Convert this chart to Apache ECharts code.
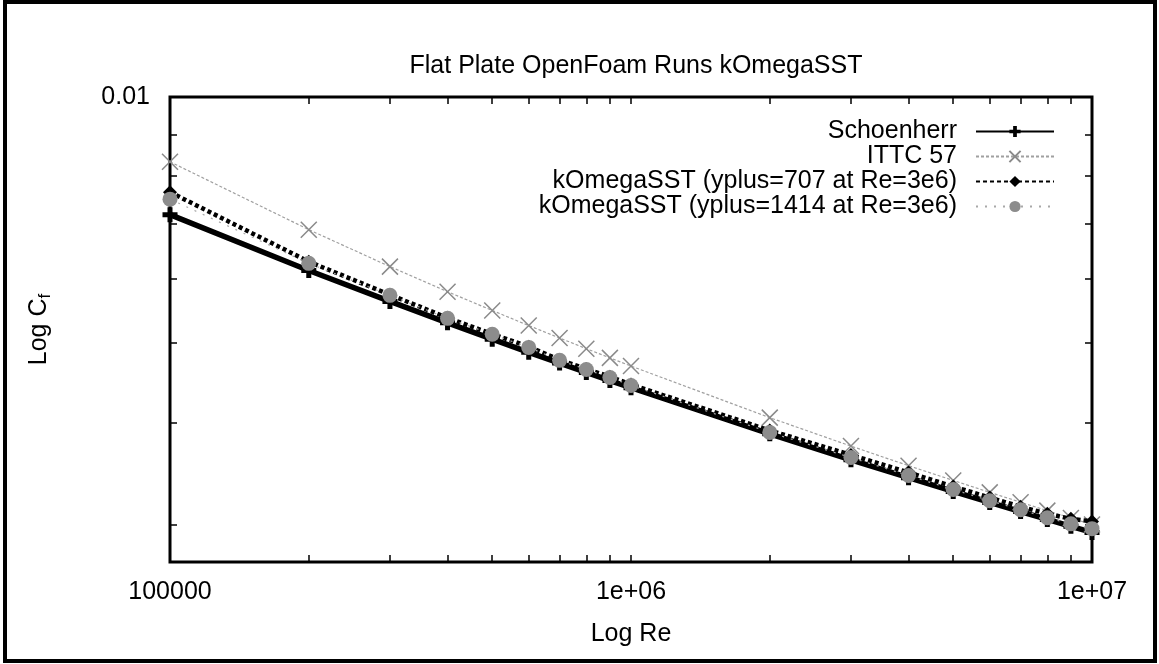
<!DOCTYPE html>
<html>
<head>
<meta charset="utf-8">
<script src="https://cdn.jsdelivr.net/npm/echarts@6/dist/echarts.min.js"></script>
<style>
  html, body { margin: 0; padding: 0; background: #fff; }
  #chart { width: 1159px; height: 664px; }
</style>
</head>
<body>
<div id="chart"></div>
<script>
// Reynolds numbers of the flat plate runs
const reynolds = [1e5, 2e5, 3e5, 4e5, 5e5, 6e5, 7e5, 8e5, 9e5,
                  1e6, 2e6, 3e6, 4e6, 5e6, 6e6, 7e6, 8e6, 9e6, 1e7];

// Skin friction coefficient Cf for each curve
const schoenherr = [0.00718, 0.006135, 0.005624, 0.005295, 0.005057, 0.004873, 0.004727, 0.004605, 0.00450,
                    0.004410, 0.003873, 0.003600, 0.003423, 0.003294, 0.003193, 0.003112, 0.003044, 0.002985, 0.002934];
const ittc57 = [0.008333, 0.006883, 0.006203, 0.005780, 0.005482, 0.005254, 0.005073, 0.004923, 0.004797,
                0.004688, 0.004054, 0.003742, 0.003541, 0.003397, 0.003285, 0.003195, 0.003120, 0.003056, 0.003000];
const komega707 = [0.00765, 0.00629, 0.00573, 0.00537, 0.00513, 0.00495, 0.00477, 0.00465, 0.00455,
                   0.00445, 0.00391, 0.00365, 0.003474, 0.003339, 0.003237, 0.003155, 0.003093, 0.003049, 0.003027];
const komega1414 = [0.00750, 0.00626, 0.005721, 0.005362, 0.005127, 0.004941, 0.004764, 0.004643, 0.004540,
                    0.004439, 0.003889, 0.003623, 0.003444, 0.003311, 0.003209, 0.003128, 0.003058, 0.003006, 0.002966];

// Axis ticks and labels
const xTickValues = [1e5, 2e5, 3e5, 4e5, 5e5, 6e5, 7e5, 8e5, 9e5,
                     1e6, 2e6, 3e6, 4e6, 5e6, 6e6, 7e6, 8e6, 9e6, 1e7];
const xLabelValues = [1e5, 1e6, 1e7];
const xLabelText = ['100000', '1e+06', '1e+07'];
const yTickValues = [0.003, 0.004, 0.005, 0.006, 0.007, 0.008, 0.009, 0.01];
const yLabelValues = [0.01];
const yLabelText = ['0.01'];

const FONT = '"Liberation Sans", Arial, Helvetica, sans-serif';
const FS = 25;

function labelFor(values, texts) {
  return function (v) {
    const i = values.findIndex(t => Math.abs(Math.log10(t) - Math.log10(v)) < 1e-6);
    return i >= 0 ? texts[i] : '';
  };
}

function pairs(ys) {
  return reynolds.map((x, i) => [x, ys[i]]);
}

const plusPath = 'path://M4,0H8V4H12V8H8V12H4V8H0V4H4Z';
const crossPath = 'path://M0,0L10,10M10,0L0,10';

const tickStyle = { show: true, inside: true, length: 7, lineStyle: { color: '#000', width: 1.5 } };

const chart = echarts.init(document.getElementById('chart'), null, { renderer: 'canvas' });

chart.setOption({
  animation: false,
  backgroundColor: '#fff',
  textStyle: { fontFamily: FONT },
  title: {
    text: 'Flat Plate OpenFoam Runs kOmegaSST',
    left: 631,
    textAlign: 'center',
    top: 49,
    textStyle: { fontFamily: FONT, fontSize: FS, fontWeight: 'normal', color: '#000' }
  },
  graphic: [{
    type: 'rect',
    shape: { x: 5, y: 2, width: 1150, height: 659 },
    style: { fill: 'none', stroke: '#000', lineWidth: 4 },
    silent: true
  }],
  grid: {
    left: 170, right: 67, top: 97, bottom: 102,
    show: true, borderColor: '#000', borderWidth: 3, backgroundColor: 'transparent'
  },
  legend: {
    orient: 'vertical',
    right: 99,
    top: 114,
    align: 'right',
    itemWidth: 78,
    itemHeight: 14,
    itemGap: 0,
    selectedMode: false,
    textStyle: { fontFamily: FONT, fontSize: FS, color: '#000', padding: [0, 14, 0, 0] },
    data: ['Schoenherr', 'ITTC 57', 'kOmegaSST (yplus=707 at Re=3e6)', 'kOmegaSST (yplus=1414 at Re=3e6)']
  },
  xAxis: [{
    type: 'log',
    position: 'bottom',
    min: 1e5, max: 1e7,
    axisLine: { show: false },
    axisTick: Object.assign({ customValues: xTickValues }, tickStyle),
    axisLabel: {
      customValues: xLabelValues,
      formatter: labelFor(xLabelValues, xLabelText),
      fontFamily: FONT, fontSize: FS, color: '#000', margin: 18
    },
    splitLine: { show: false },
    minorTick: { show: false },
    name: 'Log Re',
    nameLocation: 'middle',
    nameGap: 60,
    nameTextStyle: { fontFamily: FONT, fontSize: FS, color: '#000' }
  }, {
    type: 'log',
    position: 'top',
    min: 1e5, max: 1e7,
    axisLine: { show: false },
    axisTick: Object.assign({ customValues: xTickValues }, tickStyle),
    axisLabel: { show: false },
    splitLine: { show: false }
  }],
  yAxis: [{
    type: 'log',
    position: 'left',
    min: 0.0027, max: 0.01,
    axisLine: { show: false },
    axisTick: Object.assign({ customValues: yTickValues }, tickStyle),
    axisLabel: {
      customValues: yLabelValues,
      formatter: labelFor(yLabelValues, yLabelText),
      fontFamily: FONT, fontSize: FS, color: '#000', margin: 20
    },
    splitLine: { show: false },
    name: '{a|Log C}{b|f}',
    nameLocation: 'middle',
    nameGap: 116,
    nameTextStyle: {
      rich: {
        a: { fontFamily: FONT, fontSize: FS, color: '#000' },
        b: { fontFamily: FONT, fontSize: 17, color: '#000', padding: [12, 0, 0, 0] }
      }
    }
  }, {
    type: 'log',
    position: 'right',
    min: 0.0027, max: 0.01,
    axisLine: { show: false },
    axisTick: Object.assign({ customValues: yTickValues }, tickStyle),
    axisLabel: { show: false },
    splitLine: { show: false }
  }],
  series: [{
    name: 'Schoenherr',
    type: 'line',
    data: pairs(schoenherr),
    symbol: plusPath,
    symbolSize: 15,
    itemStyle: { color: '#000' },
    lineStyle: { color: '#000', width: 5.5 },
    z: 2
  }, {
    name: 'ITTC 57',
    type: 'line',
    data: pairs(ittc57),
    symbol: crossPath,
    symbolSize: 16,
    itemStyle: { color: 'transparent', borderColor: '#8a8a8a', borderWidth: 1.5 },
    lineStyle: { color: '#a0a0a0', width: 1.2, type: [3, 2] },
    z: 3
  }, {
    name: 'kOmegaSST (yplus=707 at Re=3e6)',
    type: 'line',
    data: pairs(komega707),
    symbol: 'diamond',
    symbolSize: 14,
    itemStyle: { color: '#000' },
    lineStyle: { color: '#000', width: 4.5, type: [4, 3] },
    z: 4
  }, {
    name: 'kOmegaSST (yplus=1414 at Re=3e6)',
    type: 'line',
    data: pairs(komega1414),
    symbol: 'circle',
    symbolSize: 15,
    itemStyle: { color: '#8c8c8c' },
    lineStyle: { color: '#a8a8a8', width: 1.2, type: [2, 7] },
    z: 5
  }]
});
</script>
</body>
</html>
